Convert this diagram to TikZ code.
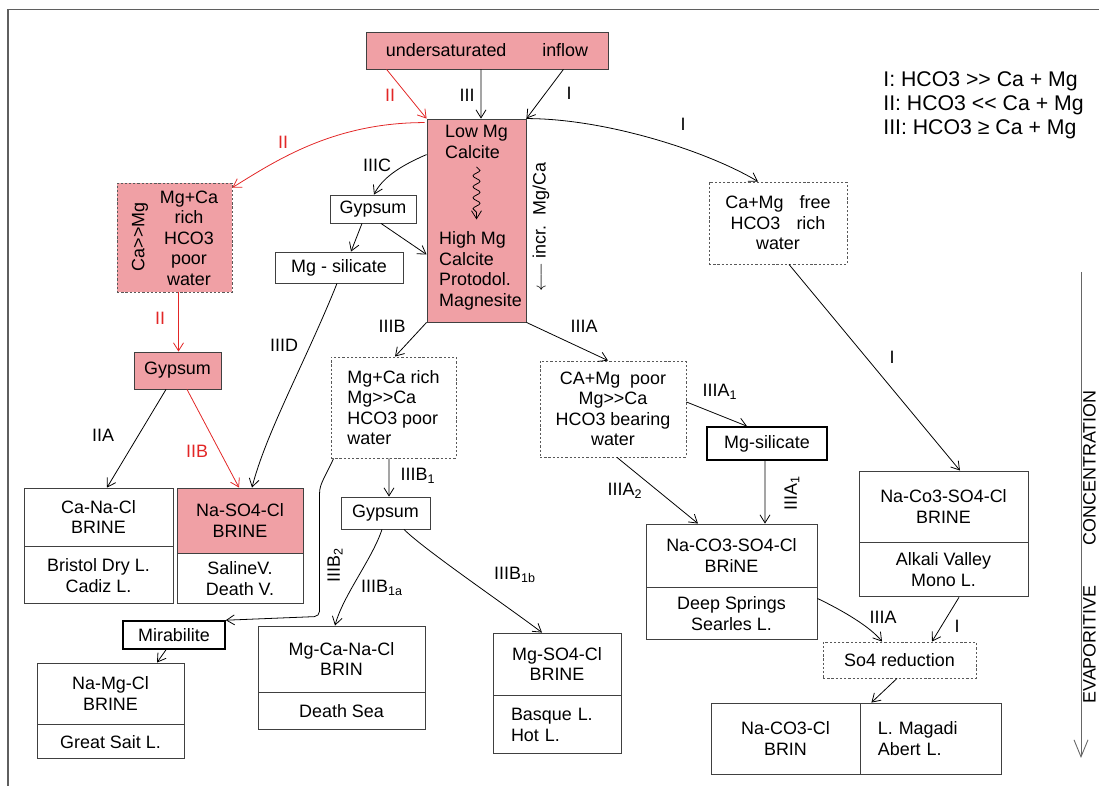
\documentclass[tikz,border=0pt]{standalone}
\usepackage{fontspec}
\setmainfont{Liberation Sans}
\usetikzlibrary{positioning,calc,arrows.meta,decorations.pathmorphing}
\definecolor{pinkfill}{RGB}{240,160,165}
\definecolor{arrred}{RGB}{226,38,38}
\definecolor{framegray}{RGB}{95,95,95}
\newcommand{\bfs}{\fontsize{10.2pt}{11.7pt}\selectfont}
\newcommand{\lsub}[1]{\textsubscript{#1}}

\tikzset{
  box/.style={draw=black!75, line width=0.5pt, inner sep=0pt, align=center, font=\bfs, fill=white},
  pbox/.style={box, fill=pinkfill},
  dbox/.style={box, draw=black!65, dash pattern=on 1.3pt off 1.1pt},
  tbox/.style={box, draw=black, line width=0.9pt},
  lbl/.style={font=\bfs, inner sep=0pt, align=center},
  rlbl/.style={lbl, text=arrred},
  arr/.style={-{Straight Barb[length=0.16cm,width=0.2cm]}, line width=0.45pt},
  rarr/.style={arr, draw=arrred},
}

\begin{document}
\begin{tikzpicture}[x=0.02cm, y=-0.02cm]
    \useasboundingbox (0,0) rectangle (1099,786);
    \draw[framegray, line width=1.1pt] (1099,9.5) -- (8,9.5) -- (8,786);

    % top of the scheme
    \node[pbox, minimum width=4.84cm, minimum height=0.74cm] (inflow) at (487,50.5) {undersaturated\hspace{2em}inflow};
    \node[pbox, minimum width=1.98cm, minimum height=4.06cm] (lowmg) at (476.5,220.5) {};
    \node[lbl, align=left] (lowtxt) at (476.5,142) {Low Mg\\Calcite};
    \node[lbl, align=left] (hightxt) at (480.5,271) {High Mg\\Calcite\\Protodol.\\Magnesite};
    \node[lbl, rotate=90] (incr) at (541,227) {$\longleftarrow$\ incr.\ \ Mg/Ca};
    \node[lbl, align=left, anchor=west, font=\fontsize{12.1pt}{13.6pt}\selectfont] (legend) at (883,105)
        {I: HCO3 >\kern0pt> Ca + Mg\\II: HCO3 <\kern0pt< Ca + Mg\\III: HCO3 ≥ Ca + Mg};

    % left branch
    \node[dbox, fill=pinkfill, minimum width=2.3cm, minimum height=2.18cm] (cammg) at (174.5,237.5) {};
    \node[lbl, rotate=90] (cammgrot) at (140,237) {Ca>\kern0pt>Mg};
    \node[lbl] (cammgtxt) at (189,238) {Mg+Ca\\rich\\HCO3\\poor\\water};
    \node[pbox, minimum width=1.74cm, minimum height=0.74cm] (gyp1) at (177.5,370.5) {Gypsum};
    \node[box, minimum width=2.98cm, minimum height=1.16cm] (canacl) at (98.5,517) {Ca-Na-Cl\\BRINE};
    \node[box, minimum width=2.98cm, minimum height=1.14cm, below=0pt of canacl] (canacll) {Bristol Dry L.\\Cadiz L.};
    \node[pbox, minimum width=2.52cm, minimum height=1.3cm] (naso4) at (240,520.5) {Na-SO4-Cl\\BRINE};
    \node[box, minimum width=2.52cm, minimum height=1.0cm, below=0pt of naso4] (naso4l) {SalineV.\\Death V.};

    % middle branch
    \node[box, minimum width=1.72cm, minimum height=0.56cm] (gyp2) at (373,209) {Gypsum};
    \node[box, minimum width=2.56cm, minimum height=0.62cm] (mgsil1) at (339,267.5) {Mg - silicate};
    \node[dbox, minimum width=2.5cm, minimum height=2.02cm, align=left] (mgcarich) at (393.5,407.5)
        {Mg+Ca rich\\Mg>\kern0pt>Ca\\HCO3 poor\\water};
    \node[box, minimum width=1.78cm, minimum height=0.64cm] (gyp3) at (385.5,513) {Gypsum};
    \node[tbox, minimum width=2.04cm, minimum height=0.56cm] (mirab) at (174,635) {Mirabilite};
    \node[box, minimum width=2.94cm, minimum height=1.22cm] (namgcl) at (110.5,693.5) {Na-Mg-Cl\\BRINE};
    \node[box, minimum width=2.94cm, minimum height=0.68cm, below=0pt of namgcl] (namgcll) {Great Sait L.};
    \node[box, minimum width=3.34cm, minimum height=1.32cm] (mgcanacl) at (341.5,659) {Mg-Ca-Na-Cl\\BRIN};
    \node[box, minimum width=3.34cm, minimum height=0.74cm, below=0pt of mgcanacl] (mgcanacll) {Death Sea};
    \node[box, minimum width=2.56cm, minimum height=1.24cm] (mgso4cl) at (557,664) {Mg-SO4-Cl\\BRINE};
    \node[box, minimum height=1.16cm, text width=1.84cm, inner xsep=0.36cm, align=left, below=0pt of mgso4cl] (mgso4cll) {Basque L.\\Hot L.};

    % right branch
    \node[dbox, minimum width=2.92cm, minimum height=1.92cm] (camgpoor) at (613,409)
        {CA+Mg\ \ poor\\Mg>\kern0pt>Ca\\HCO3 bearing\\water};
    \node[tbox, minimum width=2.4cm, minimum height=0.66cm] (mgsil2) at (767,443.5) {Mg-silicate};
    \node[box, minimum width=3.42cm, minimum height=1.26cm] (naco3so4) at (731.5,555.5) {Na-CO3-SO4-Cl\\BRiNE};
    \node[box, minimum width=3.42cm, minimum height=1.04cm, below=0pt of naco3so4] (naco3so4l) {Deep Springs\\Searles L.};
    \node[dbox, minimum width=2.76cm, minimum height=1.64cm] (camgfree) at (778,223)
        {Ca+Mg\hspace{0.9em}free\\HCO3\hspace{0.9em}rich\\water};
    \node[box, minimum width=3.38cm, minimum height=1.42cm] (nacoso4b) at (943.5,506.5) {Na-Co3-SO4-Cl\\BRINE};
    \node[box, minimum width=3.38cm, minimum height=1.08cm, below=0pt of nacoso4b] (nacoso4bl) {Alkali Valley\\Mono L.};
    \node[dbox, minimum width=3.06cm, minimum height=0.72cm] (so4red) at (899.5,660) {So4 reduction};
    \node[box, minimum width=2.98cm, minimum height=1.42cm] (naco3cl) at (785.5,738.5) {Na-CO3-Cl\\BRIN};
    \node[box, minimum height=1.42cm, text width=2.14cm, inner xsep=0.34cm, align=left, right=0pt of naco3cl] (naco3clr) {L. Magadi\\Abert L.};

    % concentration axis
    \coordinate (evtop) at (1081,272);
    \coordinate (evbot) at (1081,758);
    \draw[-{Straight Barb[length=0.34cm,width=0.28cm]}, draw=black!60, line width=0.5pt] (evtop) -- (evbot);
    \node[lbl, rotate=90] (evap) at (1089.5,547) {EVAPORITIVE\hspace{0.8cm}CONCENTRATION};

    % arrows
    \draw[rarr] ($(inflow.south west)+(21,0)$) -- (lowmg.north west);
    \draw[arr] ($(inflow.south)+(-6,0)$) -- ($(lowmg.north)+(4.5,0)$);
    \draw[arr] ($(inflow.south east)+(-45,0)$) -- (lowmg.north east);
    \draw[arr] (lowmg.north east) .. controls +(80,0) and +(-50,-30) .. ($(camgfree.north)+(-20,0)$);
    \draw[rarr] ($(lowmg.north west)+(-2,4)$) .. controls +(-90,0) and +(45,-28) .. ($(cammg.north east)+(0,5)$);
    \draw[rarr] ($(cammg.south)+(4,0)$) -- ($(gyp1.north)+(1,0)$);
    \draw[arr] ($(gyp1.south)+(-11.5,0)$) -- ($(canacl.north)+(8.5,0)$);
    \draw[rarr] ($(gyp1.south)+(9.5,0)$) -- ($(naso4.north)+(-1,0)$);
    \draw[arr] ($(lowmg.north west)+(0,36)$) .. controls +(-28,12) and +(8,-16) .. ($(gyp2.north)+(1,0)$);
    \draw[arr] ($(gyp2.south)+(-11,0)$) -- ($(mgsil1.north)+(12,0)$);
    \draw[arr] ($(gyp2.south)+(8,0)$) -- ($(lowmg.west)+(0,34)$);
    \draw[arr] ($(mgsil1.south)+(-2,0)$) .. controls +(-30,75) and +(14,-55) .. ($(naso4.north)+(12,0)$);
    \draw[arr] (lowmg.south west) -- ($(mgcarich.north)+(1.5,0)$);
    \draw[arr] (lowmg.south east) -- ($(camgpoor.north)+(-5,0)$);
    \draw[arr] ($(mgcarich.south)+(-4.5,0)$) -- ($(gyp3.north)+(3.5,0)$);
    \draw[arr, rounded corners=3pt] ($(mgcarich.south west)+(3,0)$) .. controls +(-8,18) and +(0,-15) .. ($(mgcarich.south west)+(-11,40)$)
        -- ($(mgcarich.south west)+(-11,158)$) -- (mirab.north east);
    \draw[arr] ($(gyp3.south)+(-3.5,0)$) .. controls +(-10,30) and +(8,-30) .. ($(mgcanacl.north)+(-6.5,0)$);
    \draw[arr] ($(gyp3.south)+(18.5,0)$) .. controls +(20,20) and +(-40,-30) .. ($(mgso4cl.north)+(-15,0)$);
    \draw[arr] ($(camgpoor.east)+(0,-7)$) -- ($(mgsil2.north)+(-20,0)$);
    \draw[arr] ($(camgpoor.south)+(4,0)$) -- ($(naco3so4.north)+(-33.5,0)$);
    \draw[arr] ($(mgsil2.south)+(-2,0)$) -- ($(naco3so4.north)+(33.5,0)$);
    \draw[arr] ($(camgfree.south)+(11,0)$) -- ($(nacoso4b.north)+(16.5,0)$);
    \draw[arr] ($(naco3so4l.north east)+(0,11)$) .. controls +(25,12) and +(-12,-15) .. ($(so4red.north)+(-17.5,0)$);
    \draw[arr] ($(nacoso4bl.south)+(15.5,0)$) -- ($(so4red.north)+(32.5,0)$);
    \draw[arr] ($(so4red.south)+(-2.5,0)$) -- ($(naco3cl.north east)+(11,0)$);
    \draw[arr] ($(mirab.south)+(-8,0)$) -- ($(namgcl.north)+(46.5,0)$);
    \draw[arr, decorate, decoration={snake, amplitude=0.07cm, segment length=0.22cm, post length=0.12cm}]
        ($(lowtxt.south)+(0,8)$) -- ($(hightxt.north)+(-4,-12)$);

    % labels
    \node[rlbl] (l1) at (390,95) {II};
    \node[lbl] (l2) at (467,95) {III};
    \node[lbl] (l3) at (569,93) {I};
    \node[lbl] (l4) at (683,124) {I};
    \node[rlbl] (l5) at (283,142) {II};
    \node[lbl] (l6) at (377,165) {IIIC};
    \node[rlbl] (l7) at (160,318) {II};
    \node[lbl] (l8) at (103,435) {IIA};
    \node[rlbl] (l9) at (197,451) {IIB};
    \node[lbl] (l10) at (284,345) {IIID};
    \node[lbl] (l11) at (392,326) {IIIB};
    \node[lbl] (l12) at (584,326) {IIIA};
    \node[lbl] (l13) at (418,476) {IIIB\lsub{1}};
    \node[lbl, rotate=90] (l14) at (335,565) {IIIB\lsub{2}};
    \node[lbl] (l15) at (382,588) {IIIB\lsub{1a}};
    \node[lbl] (l16) at (515,575) {IIIB\lsub{1b}};
    \node[lbl] (l17) at (720,392) {IIIA\lsub{1}};
    \node[lbl] (l18) at (625,491) {IIIA\lsub{2}};
    \node[lbl, rotate=90] (l19) at (792,493) {IIIA\lsub{1}};
    \node[lbl] (l20) at (892,357) {I};
    \node[lbl] (l21) at (883,617) {IIIA};
    \node[lbl] (l22) at (957,626) {I};
\end{tikzpicture}
\end{document}
